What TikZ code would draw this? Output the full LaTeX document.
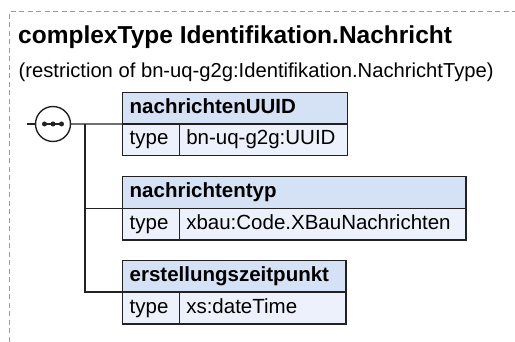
\documentclass[tikz,border=0pt]{standalone}
\usepackage{fontspec}
\setmainfont{Liberation Sans}
\usetikzlibrary{calc}
\definecolor{hdrfill}{HTML}{D5E1F5}
\definecolor{rowfill}{HTML}{ECF1FB}
\definecolor{edge}{HTML}{222222}
\definecolor{frame}{HTML}{9A9A9A}
\begin{document}
\begin{tikzpicture}[x=1pt,y=-1pt,
  cellbase/.style={draw=edge,line width=1.4pt,anchor=north west,inner xsep=7pt,inner ysep=0pt,outer sep=0pt,
    minimum height=31.7pt,text height=14.8pt,text depth=4.8pt,align=left},
  hdr/.style={cellbase,fill=hdrfill,font=\fontsize{20.5}{24}\selectfont\bfseries},
  cellk/.style={cellbase,fill=rowfill,font=\fontsize{20.5}{24}\selectfont},
  cellv/.style={cellk},
  conn/.style={draw=edge,line width=1.4pt},
  txt/.style={anchor=base west,inner sep=0pt}]
\useasboundingbox (0,0) rectangle (515,342);
% frame
\draw[frame,line width=0.9pt,dash pattern=on 5pt off 3.5pt] (9.3,342) -- (9.3,11.8) -- (515,11.8);
% title
\node[txt,font=\fontsize{24.5}{28}\selectfont\bfseries] (title) at (18,43.5) {complexType Identifikation.Nachricht};
\node[txt,font=\fontsize{20.2}{24}\selectfont] (sub) at (18.5,77.5) {(restriction of bn-uq-g2g:Identifikation.NachrichtType)};
% sequence compositor
\coordinate (seqc) at (53,124);
\draw[edge,fill=white,line width=1.4pt] (seqc) circle [radius=17.5];
\node[circle,minimum size=35pt,inner sep=0pt,outer sep=0pt] (seq) at (seqc) {};
\coordinate (d1) at ($(seqc)+(-8.5,0)$);
\coordinate (d3) at ($(seqc)+(8.5,0)$);
\draw[edge,line width=1.6pt] (d1) -- (d3);
\fill[edge] (d1) circle [radius=2.5] (seqc) circle [radius=2.5] (d3) circle [radius=2.5];
\coordinate (stub) at (27,124);
% boxes
\node[hdr,minimum width=224.6pt,text width=210.6pt] (h1) at (122.7,92.3) {nachrichtenUUID};
\node[cellk,text width=42.6pt] (k1) at (h1.south west) {type};
\node[cellv,text width=154pt] (v1) at (k1.north east) {bn-uq-g2g:UUID};

\node[hdr,minimum width=343.3pt,text width=329.3pt] (h2) at (122.7,176.8) {nachrichtentyp};
\node[cellk,text width=42.6pt] (k2) at (h2.south west) {type};
\node[cellv,text width=272.7pt] (v2) at (k2.north east) {xbau:Code.XBauNachrichten};

\node[hdr,minimum width=223.3pt,text width=209.3pt] (h3) at (122.7,260.5) {erstellungszeitpunkt};
\node[cellk,text width=42.6pt] (k3) at (h3.south west) {type};
\node[cellv,text width=152.7pt] (v3) at (k3.north east) {xs:dateTime};
% connectors
\coordinate (trunk) at (85,124);
\draw[conn] (stub) -- (seq.west);
\draw[conn] (seq.east) -- (h1.south west);
\draw[conn] (trunk) |- (h3.south west);
\draw[conn] (trunk |- h2.south west) -- (h2.south west);
\end{tikzpicture}
\end{document}
